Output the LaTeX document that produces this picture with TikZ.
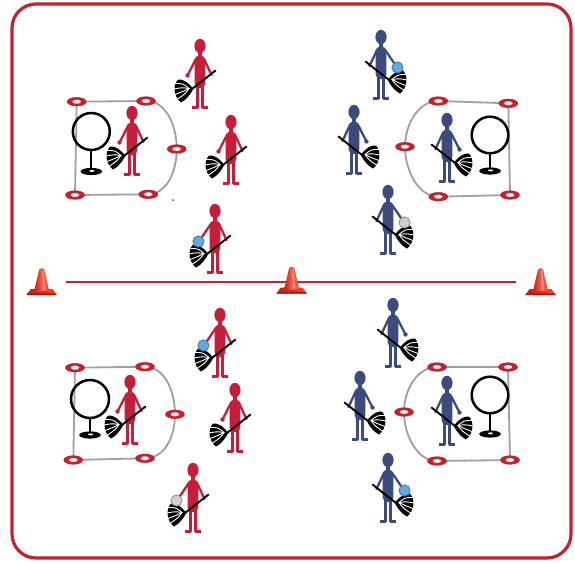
\documentclass[tikz,border=0pt]{standalone}
\definecolor{teamred}{HTML}{C41E3A}
\definecolor{teamblue}{HTML}{3C4B7C}
\definecolor{framered}{HTML}{C4222F}
\definecolor{ballblue}{HTML}{62A8E2}
\definecolor{ballblueline}{HTML}{3F78B0}
\definecolor{ballgrey}{HTML}{CFCFCF}
\definecolor{ballgreyline}{HTML}{8E8E8E}
\definecolor{markred}{HTML}{CC1F2E}
\definecolor{goalgrey}{HTML}{A0A0A0}
\definecolor{conedark}{HTML}{C81C14}
\definecolor{conelight}{HTML}{F2472C}

% broom held in the right hand, head low on the left
\newcommand{\broomstick}{%
  \draw[black, line width=1.9, line cap=round] (15.5,24.5) -- (-8,43);
  \fill[black] (-7,42.5) .. controls (-13,35) and (-18,33) .. (-22,33.5)
     .. controls (-27,39) and (-27,50) .. (-19,56.5)
     .. controls (-14,54) and (-10,49) .. (-7,43.5) -- cycle;
  \foreach \ex/\ey/\cx/\cy in {-24.5/37.5/-17/37.5, -26/43/-18/41.5,
      -25/48.5/-17/45.5, -22.5/53/-15/48}
    \draw[white, line width=.9, line cap=round] (-11,42.5) .. controls (\cx,\cy) .. (\ex,\ey);
}
% legs, broom arm, torso and head
\newcommand{\playercore}[1]{%
  \draw[#1, line width=2.6, line join=round] (-2.6,38) -- (-2.6,61.6) -- (-8.2,61.6);
  \draw[#1, line width=2.6, line join=round] (2.6,38) -- (2.6,61.6) -- (8.2,61.6);
  \draw[#1, line width=2.3, line cap=round] (3.8,12.5) -- (11.5,29);
  \fill[#1] (-1.8,4) rectangle (1.8,11);
  \fill[#1, rounded corners=4.6] (-5.3,9.5) rectangle (5.3,42);
  \fill[#1] (0,0) ellipse [x radius=5.6, y radius=7.2];
}
% x, y (head centre), facing (1 or -1), colour
\newcommand{\drawplayer}[4]{%
  \begin{scope}[shift={(#1,#2)}, xscale=#3]
    \playercore{#4}
    \draw[#4, line width=2.3, line cap=round] (-3.8,12.5) -- (-12.5,29.5);
    \fill[#4] (-12.5,29.5) circle [radius=2.2];
    \broomstick
  \end{scope}}
% x, y, facing, colour, ball fill, ball outline
\newcommand{\drawballplayer}[6]{%
  \begin{scope}[shift={(#1,#2)}, xscale=#3]
    \playercore{#4}
    \draw[#4, line width=2.3, line cap=round] (-3.8,12.5) -- (-13,26);
    \broomstick
    \filldraw[fill=#5, draw=#6, line width=.8] (-16.5,30.5) circle [radius=5.6];
  \end{scope}}
% flat goal marker
\newcommand{\goalmarker}[2]{%
  \filldraw[fill=markred, draw=markred!80!black, line width=.4] (#1,#2) ellipse [x radius=9.5, y radius=4.3];
  \filldraw[fill=white, draw=gray!60, line width=.3] (#1,#2) ellipse [x radius=4.2, y radius=1.9];}
% hoop on a stand: x, y, radius, y of the foot
\newcommand{\goalhoop}[4]{%
  \draw[black, line width=1.8] ({#1},{#2+#3}) -- ({#1},{#4});
  \fill[black] ({#1},{#4}) ellipse [x radius=10.8, y radius=3.6];
  \fill[white] ({#1+0.5},{#4-0.6}) ellipse [x radius=2.6, y radius=1];
  \draw[black, line width=2.5] (#1,#2) circle [radius=#3];}
% traffic cone: x of centre, y of bottom
\newcommand{\pitchcone}[2]{%
  \shade[left color=conedark, right color=conelight]
    ({#1-15},{#2}) -- ({#1+15},{#2}) -- ({#1+11},{#2-6}) -- ({#1-11},{#2-6}) -- cycle;
  \fill[conedark!85!black] ({#1-15},{#2}) -- ({#1+15},{#2}) -- ({#1+14.5},{#2-1.6}) -- ({#1-14.5},{#2-1.6}) -- cycle;
  \shade[left color=conedark, right color=conelight, middle color=conelight!85!white]
    ({#1-7.5},{#2-4}) -- ({#1-2.6},{#2-25.5}) .. controls ({#1-1.5},{#2-27.5}) and ({#1+1.5},{#2-27.5}) .. ({#1+2.6},{#2-25.5})
    -- ({#1+7.5},{#2-4}) -- cycle;
  \fill[white, opacity=.3] ({#1+0.5},{#2-24}) -- ({#1+1.8},{#2-24}) -- ({#1+4},{#2-5}) -- ({#1+1.5},{#2-5}) -- cycle;}

\begin{document}
\begin{tikzpicture}[x=1pt, y=-1pt]
\useasboundingbox (0,0) rectangle (575,562);
\fill[white] (0,0) rectangle (575,562);

% border of the pitch
\draw[framered, line width=3.2, rounded corners=24] (12,4) rectangle (571,558);

% half-way line and cones
\draw[framered, line width=2] (66,282) -- (516,282);
\pitchcone{41.7}{295}
\pitchcone{291.7}{293.5}
\pitchcone{540.5}{295}

% ---- goal areas ----
\begin{scope}[goalgrey, line width=1.8]
  \draw (76.7,101.7) -- (146,101) .. controls (166,101) and (176.7,125) .. (176.7,149)
        .. controls (176.7,173) and (166,194) .. (148.3,194.3) -- (75,195) -- cycle;
  \draw (508.3,103.3) -- (438.3,101) .. controls (418,101) and (405,125) .. (405,146.7)
        .. controls (405,170) and (418,196.7) .. (438.3,196.7) -- (510,195) -- cycle;
  \draw (75,367.7) -- (145,366.7) .. controls (164,366.7) and (175,390) .. (175,414.3)
        .. controls (175,438) and (164,458.3) .. (145,458.3) -- (73.3,460) -- cycle;
  \draw (508,367) -- (437,367) .. controls (417,367) and (404,390) .. (404,412)
        .. controls (404,435) and (417,461) .. (437,461) -- (510,460) -- cycle;
\end{scope}

\goalhoop{91.3}{131.5}{18.5}{171.5}
\goalhoop{490}{135}{18.3}{171}
\goalhoop{90}{399}{19}{435}
\goalhoop{490}{395}{18.3}{434}

\goalmarker{76.7}{101.7}\goalmarker{146}{101}\goalmarker{176.7}{149}\goalmarker{148.3}{194.3}\goalmarker{75}{195}
\goalmarker{438.3}{101}\goalmarker{508.3}{103.3}\goalmarker{405}{146.7}\goalmarker{438.3}{196.7}\goalmarker{510}{195}
\goalmarker{75}{367.7}\goalmarker{145}{366.7}\goalmarker{175}{414.3}\goalmarker{145}{458.3}\goalmarker{73.3}{460}
\goalmarker{437}{367}\goalmarker{508}{367}\goalmarker{404}{412}\goalmarker{437}{461}\goalmarker{510}{460}

\fill[markred] (173,200) circle [radius=1];

% ---- red team ----
\drawplayer{200}{46}{1}{teamred}
\drawplayer{231}{122}{1}{teamred}
\drawballplayer{215}{211}{1}{teamred}{ballblue}{ballblueline}
\drawplayer{132}{113}{1}{teamred}
\drawballplayer{220}{315}{1}{teamred}{ballblue}{ballblueline}
\drawplayer{235}{390}{1}{teamred}
\drawplayer{130}{382}{1}{teamred}
\drawballplayer{193}{470}{1}{teamred}{ballgrey}{ballgreyline}

% ---- blue team ----
\drawballplayer{381}{37}{-1}{teamblue}{ballblue}{ballblueline}
\drawplayer{354}{112}{-1}{teamblue}
\drawballplayer{388}{192}{-1}{teamblue}{ballgrey}{ballgreyline}
\drawplayer{447}{120}{-1}{teamblue}
\drawplayer{393}{305}{-1}{teamblue}
\drawplayer{360}{378}{-1}{teamblue}
\drawplayer{447}{383}{-1}{teamblue}
\drawballplayer{388}{460}{-1}{teamblue}{ballblue}{ballblueline}
\end{tikzpicture}
\end{document}
